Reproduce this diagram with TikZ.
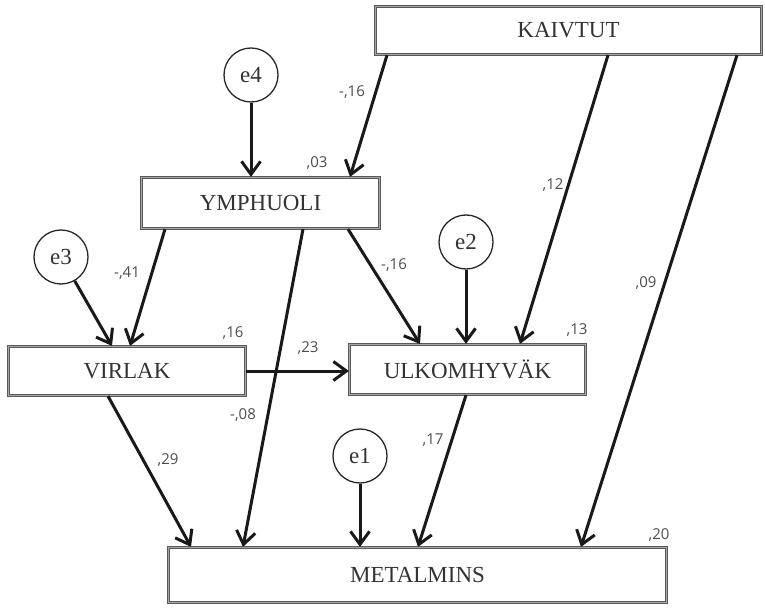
\documentclass[tikz,border=0pt]{standalone}
\usepackage{fontspec}
\setmainfont{Liberation Serif}
\newfontfamily\labfont{Open Sans}
\usetikzlibrary{arrows.meta}
\begin{document}
\begin{tikzpicture}[x=1pt,y=-1pt,
  box/.style={draw=black!65, line width=1.2pt, double=black!35, double distance=1.3pt,
    fill=white, inner sep=0pt, font=\fontsize{23}{27}\selectfont, text=black!80},
  err/.style={circle, draw=black!85, line width=1.3pt, minimum size=54pt, inner sep=0pt,
    font=\fontsize{23}{27}\selectfont, text=black!80},
  arr/.style={line width=3pt, draw=black!90, -{Straight Barb[length=13pt,width=19pt]}},
  lab/.style={font=\labfont\fontsize{15}{17}\selectfont, text=black!70, inner sep=0pt}]
\useasboundingbox (0,0) rectangle (765,609);
% boxes
\node[box, minimum width=386pt, minimum height=48pt] (kai) at (568.5,30.5) {KAIVTUT};
\node[box, minimum width=238pt, minimum height=51pt] (ymp) at (260.5,203) {YMPHUOLI};
\node[box, minimum width=237pt, minimum height=49pt] (vir) at (127,371) {VIRLAK};
\node[box, minimum width=236pt, minimum height=50pt] (ulk) at (467.5,369.5) {ULKOMHYVÄK};
\node[box, minimum width=498pt, minimum height=55pt] (met) at (417.5,575) {METALMINS};
% error terms
\node[err] (e4) at (251,75) {e4};
\node[err] (e3) at (61,257) {e3};
\node[err] (e2) at (466,242) {e2};
\node[err] (e1) at (360,456) {e1};
% arrows
\draw[arr] ([xshift=-181.5pt]kai.south) -- ([xshift=89.5pt]ymp.north);
\draw[arr] (e4) -- (e4 |- ymp.north);
\draw[arr] ([xshift=39.5pt]kai.south) -- ([xshift=52.5pt]ulk.north);
\draw[arr] ([xshift=168.5pt]kai.south) -- ([xshift=163.5pt]met.north);
\draw[arr] ([xshift=-95.5pt]ymp.south) -- ([xshift=3pt]vir.north);
\draw[arr] (e3) -- ([xshift=-15pt]vir.north);
\draw[arr] ([xshift=42.5pt]ymp.south) -- ([xshift=-174.5pt]met.north);
\draw[arr] ([xshift=87.5pt]ymp.south) -- ([xshift=-47.5pt]ulk.north);
\draw[arr] (e2) -- (e2 |- ulk.north);
\draw[arr] (vir.east) -- (vir.east -| ulk.west);
\draw[arr] ([xshift=-19pt]vir.south) -- ([xshift=-226.5pt]met.north);
\draw[arr] (e1) -- (e1 |- met.north);
\draw[arr] ([xshift=-1.5pt]ulk.south) -- ([xshift=0.5pt]met.north);
% labels
\node[lab] (l1) at (352,92) {-,16};
\node[lab] (l2) at (317,163) {,03};
\node[lab] (l3) at (553,185) {,12};
\node[lab] (l4) at (646,283) {,09};
\node[lab] (l5) at (127,273) {-,41};
\node[lab] (l6) at (243,415) {-,08};
\node[lab] (l7) at (394,265) {-,16};
\node[lab] (l8) at (308,348) {,23};
\node[lab] (l9) at (233,333) {,16};
\node[lab] (l10) at (577,330) {,13};
\node[lab] (l11) at (168,460) {,29};
\node[lab] (l12) at (433,440) {,17};
\node[lab] (l13) at (659,535) {,20};
\end{tikzpicture}
\end{document}
